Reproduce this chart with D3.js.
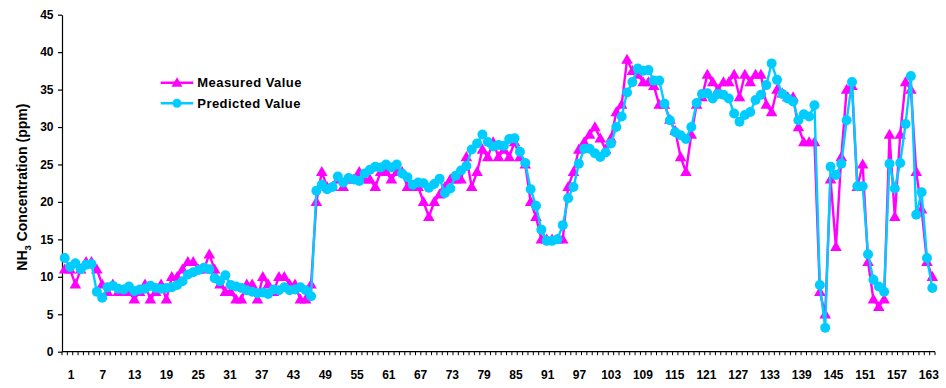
<!DOCTYPE html>
<html>
<head>
<meta charset="utf-8">
<script src="https://cdn.jsdelivr.net/npm/d3@7/dist/d3.min.js"></script>
<style>
  html, body { margin: 0; padding: 0; background: #ffffff; }
  svg { display: block; font-family: "Liberation Sans", Arial, Helvetica, sans-serif; font-weight: bold; }
</style>
</head>
<body>
<svg id="chart" width="946" height="388"></svg>
<script>
// Sample numbers 1..163
const samples = d3.range(1, 164);

// Measured NH3 concentration (ppm)
const measured = [
  11, 11, 9, 11, 12, 12, 11, 9, 8, 9,
  8, 8, 8, 7, 8, 9, 7, 8, 9, 7,
  10, 10, 11, 12, 12, 11, 11, 13, 11, 9,
  8, 8, 7, 7, 9, 9, 7, 10, 9, 8,
  10, 10, 9, 9, 7, 7, 9, 20, 24, 22,
  22, 23, 22, 23, 23, 24, 23, 23, 22, 24,
  24, 23, 24, 24, 22, 22, 22, 20, 18, 20,
  21, 22, 23, 23, 23, 26, 22, 24, 27, 26,
  28, 26, 27, 26, 28, 26, 25, 20, 18, 15,
  15, 15, 15, 15, 22, 24, 27, 28, 29, 30,
  28.5, 27, 28.5, 32, 33, 39, 37.5, 37, 36, 36,
  35.5, 33, 33, 31, 29.5, 26, 24, 29, 33, 34,
  37, 36, 35, 36, 36, 37, 34, 37, 36, 37,
  37, 33, 32, 35, 34.5, 34, 34, 30, 28, 28,
  28, 8, 5, 23, 14, 26, 35, 35.5, 22, 25,
  12, 7, 6, 7, 29, 18, 29, 36, 35, 24,
  19, 12, 10
];

// Model-predicted NH3 concentration (ppm)
const predicted = [
  12.5, 11.3, 11.8, 11.0, 11.6, 11.7, 8.0, 7.2, 8.6, 8.8,
  8.4, 8.3, 8.7, 8.1, 8.3, 8.4, 8.8, 8.5, 8.4, 8.5,
  8.6, 8.9, 9.4, 10.3, 10.6, 10.9, 11.2, 11.0, 9.8, 9.4,
  10.2, 8.9, 8.7, 8.5, 8.2, 8.0, 7.8, 7.9, 7.7, 8.3,
  8.2, 8.6, 8.2, 8.3, 8.6, 8.2, 7.4, 21.5, 22.3, 21.7,
  22.0, 23.4, 22.6, 23.2, 23.0, 22.8, 23.8, 24.3, 24.7, 24.6,
  25.0, 24.6, 25.0, 23.8, 23.3, 22.3, 22.6, 22.5, 21.9, 22.4,
  23.1, 21.2, 21.8, 23.5, 24.2, 24.8, 27.0, 27.8, 29.0, 28.0,
  27.4, 27.6, 27.5, 28.4, 28.5, 26.7, 25.2, 21.7, 19.5, 16.3,
  14.8, 14.8, 15.0, 16.9, 20.5, 22.0, 25.1, 27.1, 27.1, 26.5,
  26.0, 26.6, 27.8, 30.0, 31.4, 34.6, 36.0, 37.8, 37.5, 37.6,
  36.2, 36.2, 33.1, 30.9, 29.3, 28.9, 28.4, 30.0, 33.2, 34.4,
  34.5, 33.8, 34.4, 34.3, 33.8, 31.8, 30.7, 31.6, 32.0, 33.6,
  34.3, 35.6, 38.5, 36.3, 34.4, 33.8, 33.4, 30.9, 31.7, 31.4,
  32.9, 8.9, 3.2, 24.7, 23.6, 25.1, 30.9, 36.0, 22.1, 22.1,
  13.0, 9.6, 8.7, 8.0, 25.1, 21.8, 25.2, 30.4, 36.8, 18.3,
  21.3, 12.5, 8.5
];

// Axis tick values
const xTickLabels = d3.range(1, 164, 6);
const yTicks = d3.range(0, 46, 5);

const seriesNames = ["Measured Value", "Predicted Value"];
const seriesColors = ["#FF00FF", "#00CCFF"];

const svg = d3.select("#chart");

// Plot frame
const plotLeft = 62, plotRight = 935, plotTop = 14.7, plotBottom = 351.7;

const x = d3.scaleBand().domain(samples).range([plotLeft, plotRight]).padding(0);
const cx = i => x(i) + x.bandwidth() / 2;
const y = d3.scaleLinear().domain([0, 45]).range([plotBottom, plotTop]);
// Category label positions along the bottom axis
const xLabel = d3.scaleLinear().domain([1, 163]).range([70.7, 928.3]);

// Y axis
const yAxis = svg.append("g")
  .attr("transform", `translate(${plotLeft},0)`)
  .call(d3.axisLeft(y).tickValues(yTicks).tickSize(4).tickSizeOuter(0).tickPadding(4.5));
yAxis.select(".domain").attr("stroke", "#000").attr("stroke-width", 1.2);
yAxis.selectAll(".tick line").attr("stroke", "#000").attr("stroke-width", 1.2);
yAxis.selectAll("text")
  .attr("fill", "#000")
  .style("font-size", "12px")
  .style("font-weight", "bold")
  .style("font-family", "'Liberation Sans', Arial, sans-serif");

// X axis line with a tick at each category boundary
const xAxisG = svg.append("g");
xAxisG.append("line")
  .attr("x1", plotLeft).attr("x2", plotRight)
  .attr("y1", plotBottom).attr("y2", plotBottom)
  .attr("stroke", "#000").attr("stroke-width", 1.2);
xAxisG.selectAll("line.cat")
  .data(samples.concat([null]))
  .join("line")
  .attr("class", "cat")
  .attr("x1", d => d === null ? plotRight : x(d))
  .attr("x2", d => d === null ? plotRight : x(d))
  .attr("y1", plotBottom)
  .attr("y2", plotBottom + 3.5)
  .attr("stroke", "#000")
  .attr("stroke-width", 1);

// Category labels
const xLabG = svg.append("g")
  .attr("transform", `translate(0,${plotBottom})`)
  .call(d3.axisBottom(xLabel).tickValues(xTickLabels).tickSize(0).tickPadding(18.5).tickFormat(d3.format("d")));
xLabG.select(".domain").remove();
xLabG.selectAll("text")
  .attr("fill", "#000")
  .style("font-size", "12px")
  .style("font-weight", "bold")
  .style("font-family", "'Liberation Sans', Arial, sans-serif");

// Y axis title
const yTitle = svg.append("text")
  .attr("transform", `translate(22,${(plotTop + plotBottom) / 2 + 4}) rotate(-90)`)
  .attr("text-anchor", "middle")
  .attr("dy", "0.35em")
  .style("font-size", "14px")
  .attr("fill", "#000");
yTitle.append("tspan").text("NH");
yTitle.append("tspan").text("3").style("font-size", "9.5px").attr("dy", "4");
yTitle.append("tspan").text(" Concentration (ppm)").attr("dy", "-4");

// Series
const series = [measured, predicted];
const line = d3.line().x((d, k) => cx(samples[k])).y(d => y(d));

series.forEach((vals, s) => {
  const g = svg.append("g");
  g.append("path")
    .datum(vals)
    .attr("d", line)
    .attr("fill", "none")
    .attr("stroke", seriesColors[s])
    .attr("stroke-width", 2.4)
    .attr("stroke-linejoin", "round");
  if (s === 0) {
    g.selectAll("path.mk")
      .data(vals)
      .join("path")
      .attr("class", "mk")
      .attr("d", d3.symbol(d3.symbolTriangle, 58)())
      .attr("transform", (d, k) => `translate(${cx(samples[k])},${y(d) + 0.8})`)
      .attr("fill", seriesColors[s]);
  } else {
    g.selectAll("circle")
      .data(vals)
      .join("circle")
      .attr("cx", (d, k) => cx(samples[k]))
      .attr("cy", d => y(d))
      .attr("r", 5)
      .attr("fill", seriesColors[s]);
  }
});

// Legend
const legend = svg.append("g");
const legendY = [82.7, 103.3];
seriesNames.forEach((name, s) => {
  const g = legend.append("g").attr("transform", `translate(0,${legendY[s]})`);
  g.append("line")
    .attr("x1", 160.7).attr("x2", 193.3)
    .attr("stroke", seriesColors[s]).attr("stroke-width", 2.4);
  if (s === 0) {
    g.append("path")
      .attr("d", d3.symbol(d3.symbolTriangle, 52)())
      .attr("transform", "translate(177,0.8)")
      .attr("fill", seriesColors[s]);
  } else {
    g.append("circle").attr("cx", 177).attr("cy", 0).attr("r", 4.5).attr("fill", seriesColors[s]);
  }
  g.append("text")
    .attr("x", 197.3)
    .attr("dy", "0.36em")
    .style("font-size", "13px")
    .style("letter-spacing", "0.45px")
    .attr("fill", "#000")
    .text(name);
});
</script>
</body>
</html>
